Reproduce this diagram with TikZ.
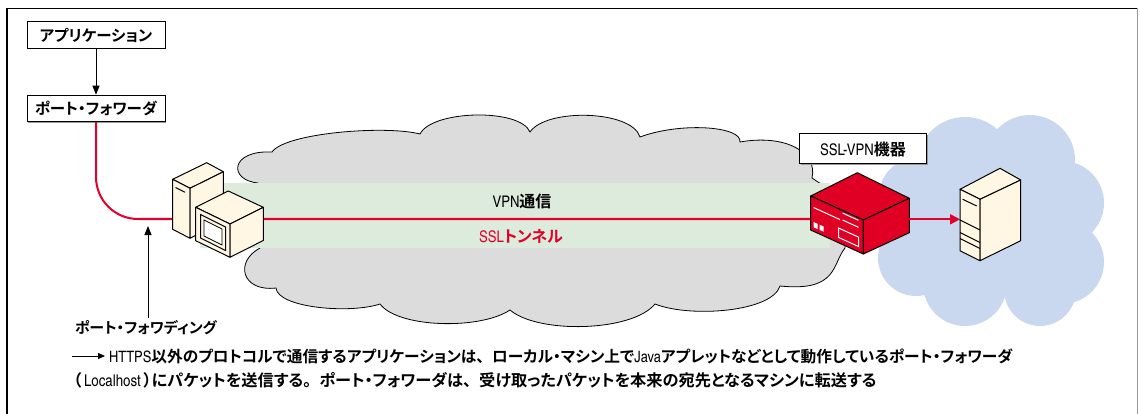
\documentclass[tikz,border=0pt]{standalone}
\usepackage{fontspec}
\setmainfont{texgyreheroscn}[Extension=.otf, UprightFont=*-regular, BoldFont=*-bold]
\newfontfamily\jpfont{Noto Sans CJK JP}[UprightFont=* Bold, RawFeature=+palt]
\newfontfamily\jpfull{Noto Sans CJK JP}[UprightFont=* Bold]
\newcommand\J[1]{{\jpfont #1}}
\newcommand\fw[1]{{\jpfull #1}}
\usetikzlibrary{arrows.meta,shadows}

\definecolor{netgray}{HTML}{DCDCDC}
\definecolor{tunnelgreen}{HTML}{DCEBDC}
\definecolor{sslred}{HTML}{E1002A}
\definecolor{devred}{HTML}{E00024}
\definecolor{cream}{HTML}{FFF6E3}
\definecolor{lanblue}{HTML}{C9D8EE}

\tikzset{
  labelbox/.style={draw, line width=1pt, fill=white, inner sep=0pt,
    minimum width=138pt, minimum height=26.5pt,
    font=\fontsize{15.5}{15.5}\selectfont,
    drop shadow={shadow xshift=1.2pt, shadow yshift=-1.2pt, fill=black!40, opacity=1}},
  arrowline/.style={draw, line width=0.8pt, -{Triangle[length=9pt,width=7pt]}},
  redline/.style={draw=sslred, line width=2pt},
  face/.style={fill=cream, draw=black, line width=1pt, line join=round},
  devface/.style={fill=devred, draw=black, line width=1pt, line join=round},
  devmark/.style={draw=white, line width=1pt},
  plain/.style={font=\fontsize{15}{15}\selectfont},
  notetext/.style={font=\fontsize{15.7}{15.7}\selectfont, inner sep=0pt, anchor=base west},
}

\begin{document}
\begin{tikzpicture}[x=1pt,y=-1pt]
\useasboundingbox (0,0) rectangle (1140,414);

% frame
\draw[line width=1.5pt] (7,414) -- (7,8.5) -- (1137,8.5);
\draw[line width=1.2pt, black!40] (1137.5,8.5) -- (1137.5,414);

% server-side LAN cloud
\fill[lanblue] (990,222) ellipse[x radius=75, y radius=70]
  (965,165) circle[radius=48] (1030,160) circle[radius=45]
  (1062,203) circle[radius=42] (1062,262) circle[radius=42]
  (1040,290) circle[radius=36] (965,284) circle[radius=42]
  (916,258) circle[radius=38] (917,196) circle[radius=38];

% internet cloud
\draw[fill=netgray, line width=0.8pt]
  (258,183) .. controls (228,180) and (230,150) .. (272,152)
  .. controls (285,133) and (385,125) .. (420,134)
  .. controls (432,110) and (520,108) .. (530,132)
  .. controls (546,108) and (632,110) .. (640,137)
  .. controls (680,122) and (742,126) .. (740,142)
  .. controls (785,134) and (818,152) .. (812,178)
  -- (845,200) -- (845,248)
  .. controls (832,264) and (838,292) .. (780,286)
  .. controls (772,312) and (690,318) .. (655,304)
  .. controls (632,332) and (538,334) .. (510,310)
  .. controls (480,330) and (398,328) .. (380,304)
  .. controls (350,314) and (278,308) .. (276,288)
  .. controls (242,292) and (234,262) .. (260,248)
  -- cycle;

% tunnel band
\fill[tunnelgreen] (200,183) rectangle (830,248);

% labels inside the tunnel
\node[font=\fontsize{16}{16}\selectfont] (vpn) at (522,201) {VPN\J{通信}};
\node[font=\fontsize{16}{16}\selectfont, text=sslred] (ssl) at (521,236) {SSL\J{トンネル}};

% boxes on the client
\node[labelbox] (app) at (96,35) {\J{アプリケーション}};
\node[labelbox] (pf) at (96,108.5) {\J{ポート・フォワーダ}};
\draw[arrowline] (app) -- (pf);

% tunnel path from the port forwarder to the SSL-VPN device
\coordinate (tunnelend) at (812,219);
\draw[redline, rounded corners=42pt] (pf.south) |- (tunnelend);

% client PC: tower
\draw[face] (172.7,179.3) -- (206.7,162.7) -- (223.3,171.7) -- (190,188.3) -- cycle;
\draw[face] (172.7,179.3) -- (190,188.3) -- (190,238.3) -- (172.7,229.3) -- cycle;
\draw[face] (190,188.3) -- (223.3,171.7) -- (223.3,221.3) -- (190,238.3) -- cycle;
\draw[line width=1pt] (175.5,187.5) -- (185,192.3);
% client PC: monitor
\draw[face] (195.7,207.3) -- (228.3,191) -- (263.3,207.3) -- (230,224) -- cycle;
\draw[face] (195.7,207.3) -- (230,224) -- (230,257.3) -- (195.7,240.7) -- cycle;
\draw[face] (230,224) -- (263.3,207.3) -- (263.3,240.5) -- (230,257.3) -- cycle;
\draw[line width=1pt, fill=cream] (200.5,214.5) -- (225.5,227) -- (225.5,250.5) -- (200.5,238) -- cycle;
\draw[line width=0.8pt, fill=white] (204,220) -- (222,229) -- (222,245) -- (204,236) -- cycle;

% SSL-VPN device
\draw[devface] (810.7,196) -- (857.3,172.7) -- (909.3,198.3) -- (863.3,220) -- cycle;
\draw[devface] (810.7,196) -- (863.3,220) -- (863.3,254) -- (810.7,230) -- cycle;
\draw[devface] (863.3,220) -- (909.3,198.3) -- (909.3,232.7) -- (863.3,254) -- cycle;
\draw[devmark] (813.5,207.5) -- (840,219.6);
\draw[devmark] (842.5,213) -- (858.5,220.3);
\draw[devmark] (842.5,220) -- (858.5,227.3);
\fill[white] (813.5,222) -- (817.5,223.8) -- (817.5,229) -- (813.5,227.2) -- cycle;
\fill[white] (819.5,224.7) -- (823.5,226.5) -- (823.5,231.7) -- (819.5,229.9) -- cycle;
\draw[devmark] (838.5,228) -- (858.5,237.1) -- (858.5,246.5) -- (838.5,237.4) -- cycle;

% target server
\coordinate (devout) at (909.3,219.3);
\coordinate (srvin) at (960,219.3);
\draw[redline, -{Triangle[length=10pt,width=10pt]}] (devout) -- (srvin);
\draw[face] (960,189.3) -- (1000,168.3) -- (1020.7,180) -- (980,199.3) -- cycle;
\draw[face] (960,189.3) -- (980,199.3) -- (980,260.7) -- (960,250.7) -- cycle;
\draw[face] (980,199.3) -- (1020.7,180) -- (1020.7,240.7) -- (980,260.7) -- cycle;
\draw[line width=1pt] (962.7,199.3) -- (976.7,206);
\draw[line width=1pt] (960,220) -- (980,230);
\draw[line width=1pt] (960,232.5) -- (980,242.5);
\draw[line width=1pt] (960,238.5) -- (980,248.5);

% device label
\node[labelbox, minimum width=127pt, minimum height=30pt, font=\fontsize{16}{16}\selectfont] (devlabel) at (863,149) {SSL-VPN\J{機器}};

% port forwarding pointer
\node[anchor=base, plain] (pfwd) at (146,333) {\J{ポート・フォワディング}};
\coordinate (tunnelpt) at (148,226);
\draw[arrowline] ([yshift=-2pt]pfwd.north -| tunnelpt) -- (tunnelpt);

% explanatory note
\coordinate (notea) at (72,356);
\coordinate (noteb) at (105,356);
\draw[line width=0.8pt, -{Triangle[length=7pt,width=6pt]}] (notea) -- (noteb);
\node[notetext] (note1) at (109,362)
  {HTTPS\J{以外のプロトコルで通信するアプリケーションは}\fw{、}\J{ローカル・マシン上で}Java\J{アプレットなどとして動作しているポート・フォワーダ}};
\node[notetext, font=\fontsize{16.2}{16.2}\selectfont] (note2) at (73,386)
  {\J{（}\,Localhost\,\J{）}\J{にパケットを送信する}\fw{。}\J{ポート・フォワーダは}\fw{、}\J{受け取ったパケットを本来の宛先となるマシンに転送する}};
\end{tikzpicture}
\end{document}
